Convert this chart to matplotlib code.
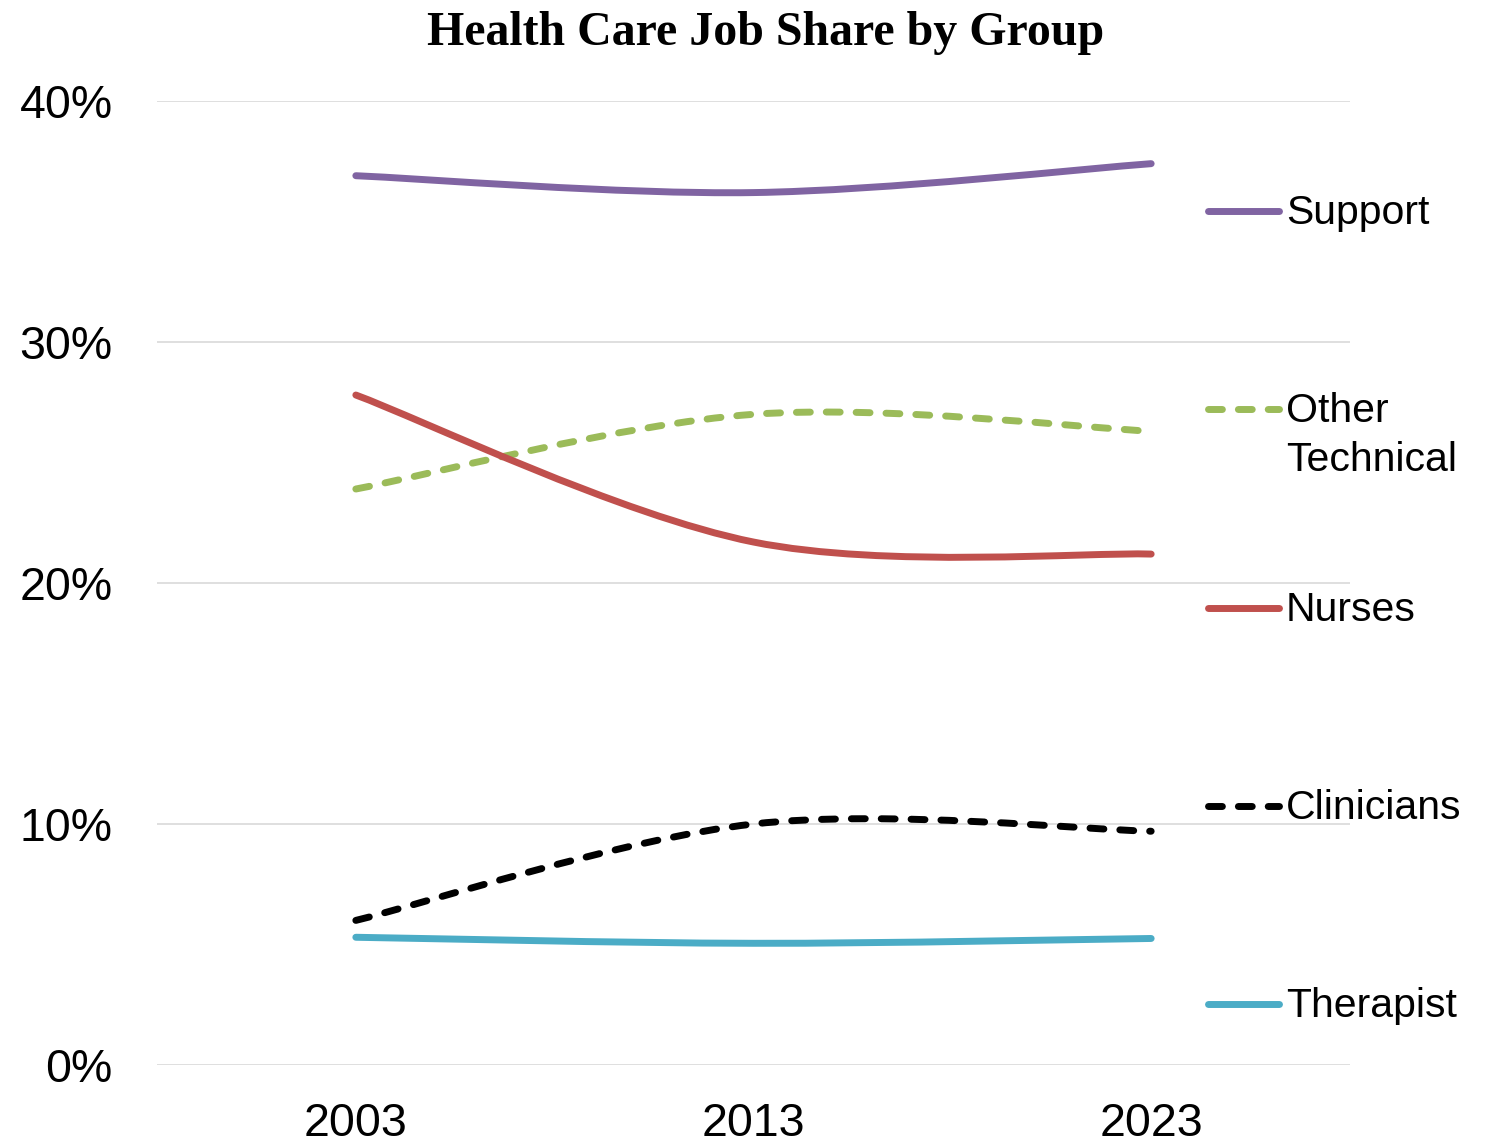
#!/usr/bin/env python3

import numpy as np
import matplotlib.pyplot as plt
from matplotlib.path import Path
from matplotlib.patches import PathPatch
from matplotlib.lines import Line2D
from matplotlib.ticker import FuncFormatter, MultipleLocator

years = ['2003', '2013', '2023']
support = [36.9, 36.2, 37.4]
other_technical = [23.9, 27.0, 26.3]
nurses = [27.8, 21.7, 21.2]
clinicians = [6.0, 10.0, 9.7]
therapist = [5.3, 5.05, 5.25]

series = [
    ('Support', support, '#8064A2', 'solid'),
    ('Other\nTechnical', other_technical, '#9BBB59', 'dash'),
    ('Nurses', nurses, '#C0504D', 'solid'),
    ('Clinicians', clinicians, '#000000', 'dash'),
    ('Therapist', therapist, '#4BACC6', 'solid'),
]

LW = 5.0
DASH = (0, (10, 11.5))
W, H = 1496, 1145
LEGEND_FS = 29.5

plt.rcParams['lines.scale_dashes'] = False
plt.rcParams['font.family'] = ['Liberation Sans', 'DejaVu Sans']


def smooth_path(xs, ys):
    # Bezier smoothing through the points (Catmull-Rom style control points)
    pts = np.column_stack([xs, ys]).astype(float)
    ext = np.vstack([pts[0], pts, pts[-1]])
    verts = [pts[0]]
    codes = [Path.MOVETO]
    for i in range(len(pts) - 1):
        p0, p1, p2, p3 = ext[i], ext[i + 1], ext[i + 2], ext[i + 3]
        verts += [p1 + (p2 - p0) / 6, p2 - (p3 - p1) / 6, p2]
        codes += [Path.CURVE4] * 3
    return Path(verts, codes)


def main():
    fig = plt.figure(figsize=(W / 100, H / 100), dpi=100)
    ax = fig.add_axes([157 / W, 1 - 1065 / H, (1350 - 157) / W, (1065 - 101) / H])

    x = np.arange(len(years))
    for label, values, color, style in series:
        patch = PathPatch(smooth_path(x, values), fill=False, edgecolor=color,
                          linewidth=LW, linestyle=DASH if style == 'dash' else 'solid',
                          capstyle='round', joinstyle='round', zorder=3)
        ax.add_patch(patch)

    ax.set_xlim(-0.5, len(years) - 0.5)
    ax.set_ylim(0, 40)
    ax.set_xticks(x)
    ax.set_xticklabels(years)
    ax.yaxis.set_major_locator(MultipleLocator(10))
    ax.yaxis.set_major_formatter(FuncFormatter(lambda v, p: '{:.0f}%'.format(v)))
    ax.grid(axis='y', color='#d9d9d9', linewidth=1.2)
    ax.set_axisbelow(True)
    for spine in ax.spines.values():
        spine.set_visible(False)
    ax.tick_params(axis='both', length=0, labelsize=33.5, colors='black')
    ax.tick_params(axis='x', pad=27)
    ax.tick_params(axis='y', pad=32)

    fig.text(766 / W, 1 - 45 / H, 'Health Care Job Share by Group', ha='center',
             va='baseline', fontsize=34.5, fontweight='bold',
             family=['Liberation Serif', 'DejaVu Serif'])

    # legend drawn on the right, one row per series, wrapped labels line by line
    for i, (label, values, color, style) in enumerate(series):
        y_px = 211 + i * 198.3
        yf = 1 - y_px / H
        fig.add_artist(Line2D([1208 / W, 1279 / W], [yf, yf], color=color,
                              linewidth=LW, linestyle=DASH if style == 'dash' else 'solid',
                              solid_capstyle='round', dash_capstyle='round'))
        for j, part in enumerate(label.split('\n')):
            fig.text(1286 / W, 1 - (y_px + 13 + j * 49) / H, part, ha='left',
                     va='baseline', fontsize=LEGEND_FS)

    fig.savefig('out.png', dpi=100)


if __name__ == '__main__':
    main()
